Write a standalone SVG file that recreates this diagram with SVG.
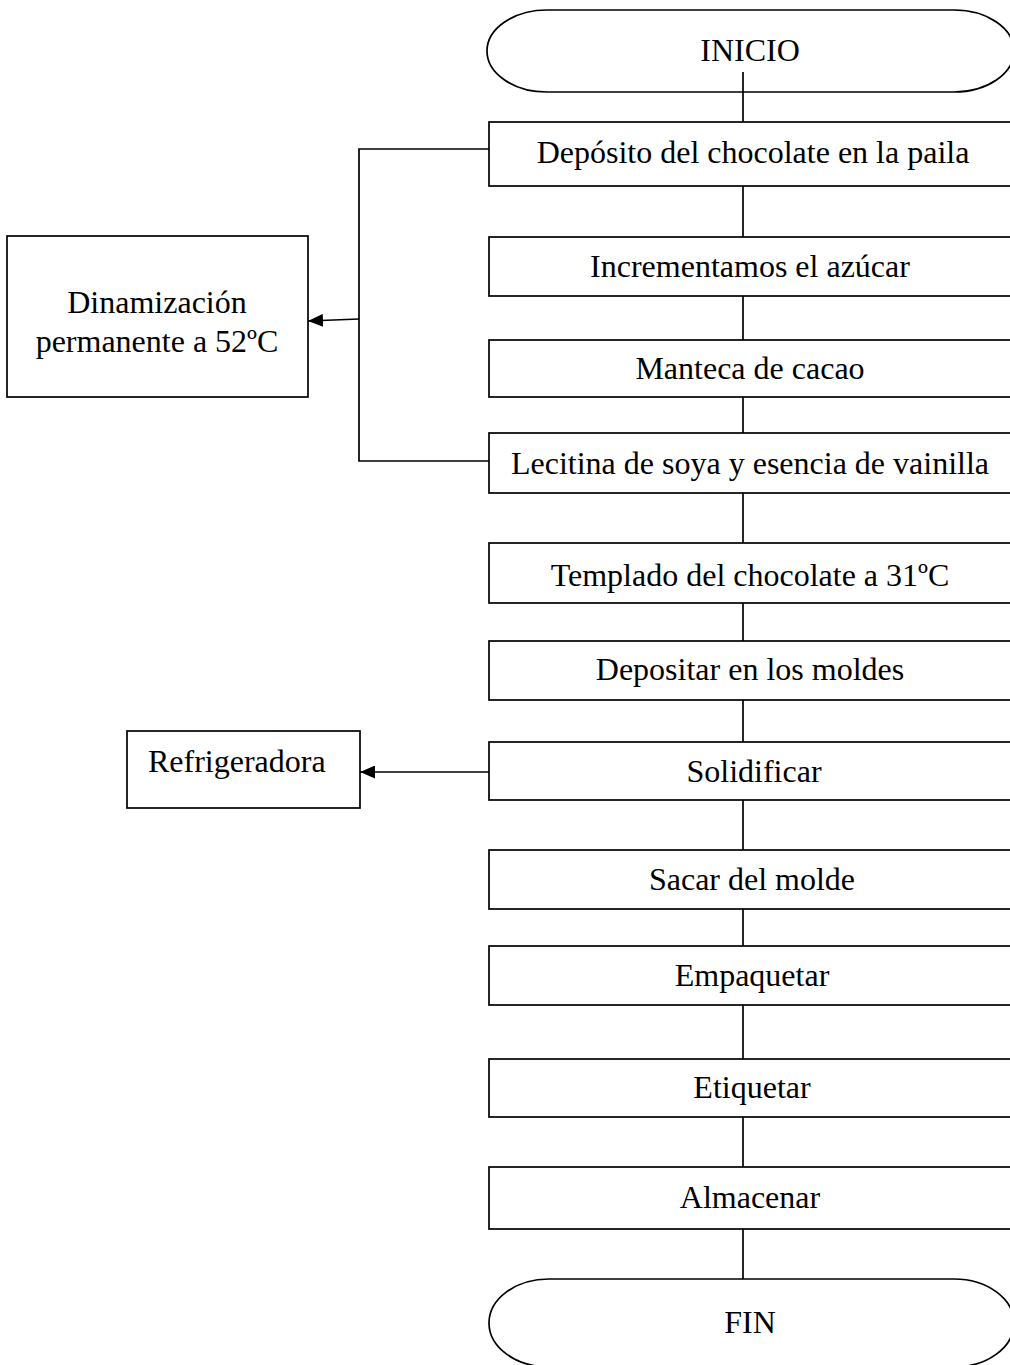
<svg xmlns="http://www.w3.org/2000/svg" width="1010" height="1365" viewBox="0 0 1010 1365">
  <defs>
    <marker id="arrow" viewBox="0 0 15 13" refX="15" refY="6.5" markerWidth="15" markerHeight="13" markerUnits="userSpaceOnUse" orient="auto">
      <path d="M0,0 L15,6.5 L0,13 z" fill="#000"/>
    </marker>
  </defs>
  <style>
    .shape { fill: #fff; stroke: #000; stroke-width: 1.7; }
    .line { fill: none; stroke: #000; stroke-width: 1.7; }
    .label { font-family: "Liberation Serif", "Times New Roman", serif; font-size: 32px; fill: #000; text-anchor: middle; }
    .left { text-anchor: start; }
  </style>
  <rect width="1010" height="1365" fill="#fff"/>

  <g id="inicio">
    <rect class="shape" x="487" y="10" width="527" height="82" rx="60" ry="41"/>
    <text class="label" x="750" y="61">INICIO</text>
  </g>
  <g id="deposito">
    <rect class="shape" x="489" y="122" width="522" height="64"/>
    <text class="label" x="753" y="163">Depósito del chocolate en la paila</text>
  </g>
  <g id="azucar">
    <rect class="shape" x="489" y="237" width="522" height="59"/>
    <text class="label" x="750" y="277">Incrementamos el azúcar</text>
  </g>
  <g id="manteca">
    <rect class="shape" x="489" y="340" width="522" height="57"/>
    <text class="label" x="750" y="379">Manteca de cacao</text>
  </g>
  <g id="lecitina">
    <rect class="shape" x="489" y="433" width="522" height="60"/>
    <text class="label" x="750" y="474">Lecitina de soya y esencia de vainilla</text>
  </g>
  <g id="templado">
    <rect class="shape" x="489" y="543" width="522" height="60"/>
    <text class="label" x="750" y="586">Templado del chocolate a 31ºC</text>
  </g>
  <g id="moldes">
    <rect class="shape" x="489" y="641" width="522" height="59"/>
    <text class="label" x="750" y="680">Depositar en los moldes</text>
  </g>
  <g id="solidificar">
    <rect class="shape" x="489" y="742" width="522" height="58"/>
    <text class="label" x="754" y="782">Solidificar</text>
  </g>
  <g id="sacar">
    <rect class="shape" x="489" y="850" width="522" height="59"/>
    <text class="label" x="752" y="890">Sacar del molde</text>
  </g>
  <g id="empaquetar">
    <rect class="shape" x="489" y="946" width="522" height="59"/>
    <text class="label" x="752" y="986">Empaquetar</text>
  </g>
  <g id="etiquetar">
    <rect class="shape" x="489" y="1059" width="522" height="58"/>
    <text class="label" x="752" y="1098">Etiquetar</text>
  </g>
  <g id="almacenar">
    <rect class="shape" x="489" y="1167" width="522" height="62"/>
    <text class="label" x="750" y="1208">Almacenar</text>
  </g>
  <g id="fin">
    <rect class="shape" x="489" y="1279" width="525" height="88" rx="60" ry="44"/>
    <text class="label" x="750" y="1333">FIN</text>
  </g>

  <g id="dinamizacion">
    <rect class="shape" x="7" y="236" width="301" height="161"/>
    <text class="label" x="157" y="313">Dinamización</text>
    <text class="label" x="157" y="352">permanente a 52ºC</text>
  </g>
  <g id="refrigeradora">
    <rect class="shape" x="127" y="731" width="233" height="77"/>
    <text class="label left" x="148" y="772">Refrigeradora</text>
  </g>

  <!-- connectors, drawn last so the start line shows inside the INICIO terminal -->
  <g id="connectors">
    <line class="line" x1="743" y1="72" x2="743" y2="122"/>
    <line class="line" x1="743" y1="186" x2="743" y2="237"/>
    <line class="line" x1="743" y1="296" x2="743" y2="340"/>
    <line class="line" x1="743" y1="397" x2="743" y2="433"/>
    <line class="line" x1="743" y1="493" x2="743" y2="543"/>
    <line class="line" x1="743" y1="603" x2="743" y2="641"/>
    <line class="line" x1="743" y1="700" x2="743" y2="742"/>
    <line class="line" x1="743" y1="800" x2="743" y2="850"/>
    <line class="line" x1="743" y1="909" x2="743" y2="946"/>
    <line class="line" x1="743" y1="1005" x2="743" y2="1059"/>
    <line class="line" x1="743" y1="1117" x2="743" y2="1167"/>
    <line class="line" x1="743" y1="1229" x2="743" y2="1279"/>
    <!-- bracket spanning the mixing steps -->
    <polyline class="line" points="489,149 359,149 359,461 489,461"/>
    <line class="line" x1="359" y1="319" x2="308" y2="321" marker-end="url(#arrow)"/>
    <line class="line" x1="489" y1="772" x2="360" y2="772" marker-end="url(#arrow)"/>
  </g>
</svg>
